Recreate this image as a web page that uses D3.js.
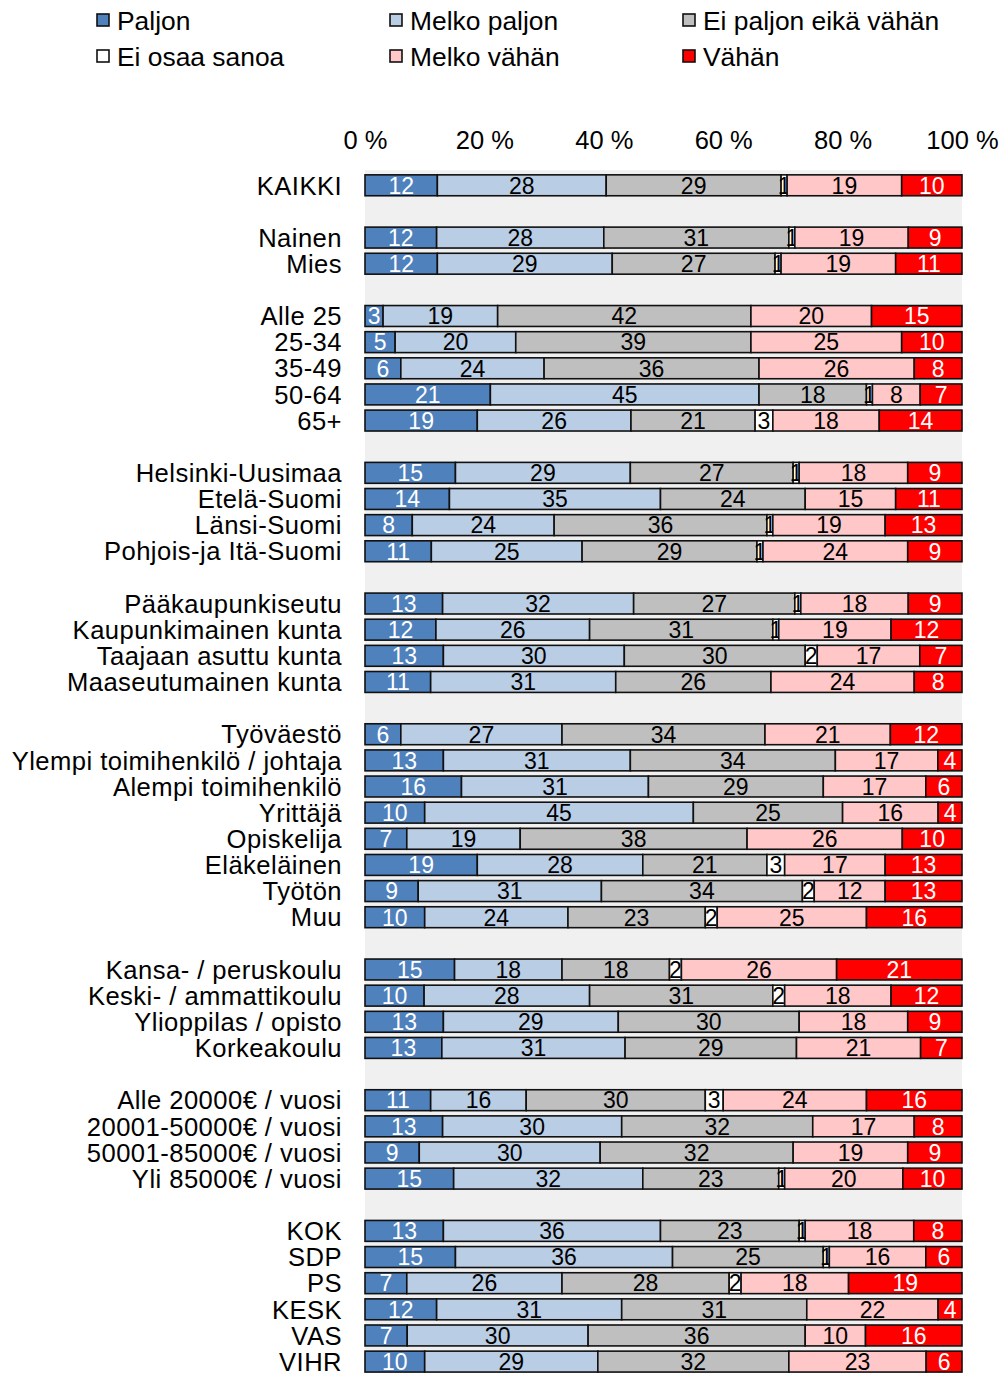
<!DOCTYPE html>
<html><head><meta charset="utf-8">
<script src="https://cdn.jsdelivr.net/npm/d3@7"></script>
<style>
html,body{margin:0;padding:0;background:#fff;}
svg{display:block;}
</style></head>
<body>
<svg id="chart" width="1008" height="1373"></svg>
<script>
const groups = [
  ["KAIKKI"],
  ["Nainen","Mies"],
  ["Alle 25","25-34","35-49","50-64","65+"],
  ["Helsinki-Uusimaa","Etelä-Suomi","Länsi-Suomi","Pohjois-ja Itä-Suomi"],
  ["Pääkaupunkiseutu","Kaupunkimainen kunta","Taajaan asuttu kunta","Maaseutumainen kunta"],
  ["Työväestö","Ylempi toimihenkilö / johtaja","Alempi toimihenkilö","Yrittäjä","Opiskelija","Eläkeläinen","Työtön","Muu"],
  ["Kansa- / peruskoulu","Keski- / ammattikoulu","Ylioppilas / opisto","Korkeakoulu"],
  ["Alle 20000€ / vuosi","20001-50000€ / vuosi","50001-85000€ / vuosi","Yli 85000€ / vuosi"],
  ["KOK","SDP","PS","KESK","VAS","VIHR"]
];
const seriesNames = ["Paljon","Melko paljon","Ei paljon eikä vähän","Ei osaa sanoa","Melko vähän","Vähän"];
const paljon      = [12, 12,12, 3,5,6,21,19, 15,14,8,11, 13,12,13,11, 6,13,16,10,7,19,9,10, 15,10,13,13, 11,13,9,15, 13,15,7,12,7,10];
const melkoPaljon = [28, 28,29, 19,20,24,45,26, 29,35,24,25, 32,26,30,31, 27,31,31,45,19,28,31,24, 18,28,29,31, 16,30,30,32, 36,36,26,31,30,29];
const eiPaljon    = [29, 31,27, 42,39,36,18,21, 27,24,36,29, 27,31,30,26, 34,34,29,25,38,21,34,23, 18,31,30,29, 30,32,32,23, 23,25,28,31,36,32];
const eiOsaa      = [1, 1,1, 0,0,0,1,3, 1,0,1,1, 1,1,2,0, 0,0,0,0,0,3,2,2, 2,2,0,0, 3,0,0,1, 1,1,2,0,0,0];
const melkoVahan  = [19, 19,19, 20,25,26,8,18, 18,15,19,24, 18,19,17,24, 21,17,17,16,26,17,12,25, 26,18,18,21, 24,17,19,20, 18,16,18,22,10,23];
const vahan       = [10, 9,11, 15,10,8,7,14, 9,11,13,9, 9,12,7,8, 12,4,6,4,10,13,13,16, 21,12,9,7, 16,8,9,10, 8,6,19,4,16,6];
const tickLabels  = ["0 %","20 %","40 %","60 %","80 %","100 %"];

const colors = ["#4f81bd","#b9cde5","#bfbfbf","#ffffff","#ffc7c7","#ff0000"];
const labelColors = ["#ffffff","#000000","#000000","#000000","#000000","#ffffff"];

const categories = groups.flat();
const seriesArrays = [paljon, melkoPaljon, eiPaljon, eiOsaa, melkoVahan, vahan];
const rows = categories.map((c,i)=>{
  const o = {cat:c};
  seriesNames.forEach((s,j)=>o[s]=seriesArrays[j][i]);
  return o;
});

const domain = [];
groups.forEach((g,gi)=>{ if(gi>0) domain.push("__gap"+gi); g.forEach(c=>domain.push(c)); });

const svg = d3.select("#chart");
const x0 = 365, x1 = 962;
const step = 26.14;
const yTop = 185.3 - step/2;
const x = d3.scaleLinear().domain([0,1]).range([x0,x1]);
const y = d3.scaleBand().domain(domain).range([yTop, yTop + step*domain.length]).paddingInner(0.2).paddingOuter(0.1);

const font = "'Liberation Sans', Arial, sans-serif";
const narrow = "'Liberation Sans Narrow','Arial Narrow','Liberation Sans',Arial,sans-serif";

svg.append("rect").attr("x",x0).attr("y",yTop-2).attr("width",x1-x0).attr("height",1373-yTop+2).attr("fill","#f0f0f0");

const axis = d3.axisTop(x).tickValues([0,0.2,0.4,0.6,0.8,1]).tickFormat((d,i)=>tickLabels[i]).tickSize(0).tickPadding(0);
const ag = svg.append("g").attr("transform",`translate(0,${yTop-23})`).call(axis);
ag.select(".domain").remove();
ag.selectAll("text").attr("font-family",font).attr("font-size",25.5).attr("fill","#000").attr("dy","0");

const yAxis = d3.axisLeft(y).tickValues(categories).tickSize(0).tickPadding(0);
const yg = svg.append("g").attr("transform",`translate(${x0-23},0)`).call(yAxis);
yg.select(".domain").remove();
yg.selectAll("text").attr("font-family",font).attr("font-size",25.6).attr("letter-spacing","0.45px")
  .attr("fill","#000").attr("dy","0.36em");

const stack = d3.stack().keys(seriesNames).offset(d3.stackOffsetExpand);
const stacked = stack(rows);

const layers = svg.append("g").selectAll("g").data(stacked).join("g");
layers.each(function(layer, li){
  d3.select(this).selectAll("rect").data(layer).join("rect")
    .attr("x", d=>x(d[0]))
    .attr("y", d=>y(d.data.cat))
    .attr("width", d=>Math.max(0, x(d[1])-x(d[0])))
    .attr("height", y.bandwidth())
    .attr("fill", colors[li])
    .attr("stroke", "#111")
    .attr("stroke-width", 1.6);
});
layers.each(function(layer, li){
  d3.select(this).selectAll("text").data(layer).join("text")
    .attr("x", d=>{ const v=d.data[seriesNames[li]]; return v===0 ? x(d[0])+3 : (x(d[0])+x(d[1]))/2; })
    .attr("y", d=>y(d.data.cat)+y.bandwidth()/2)
    .attr("dy","0.36em")
    .attr("text-anchor","middle")
    .attr("font-family", narrow)
    .attr("font-size", d=>d.data[seriesNames[li]]===0 ? 14 : 23)
    .attr("fill", labelColors[li])
    .text(d=>{ const v=d.data[seriesNames[li]]; return v===0 ? "-" : v; });
});

const legendPos = [[97,20],[390,20],[683,20],[97,56],[390,56],[683,56]];
const lg = svg.append("g");
seriesNames.forEach((s,i)=>{
  const [lx,ly] = legendPos[i];
  lg.append("rect").attr("x",lx).attr("y",ly-6).attr("width",12).attr("height",12)
    .attr("fill",colors[i]).attr("stroke","#111").attr("stroke-width",1.6);
  lg.append("text").attr("x",lx+20).attr("y",ly).attr("dy","0.36em")
    .attr("font-family",font).attr("font-size",26.4).attr("fill","#000").text(s);
});
</script>
</body></html>
